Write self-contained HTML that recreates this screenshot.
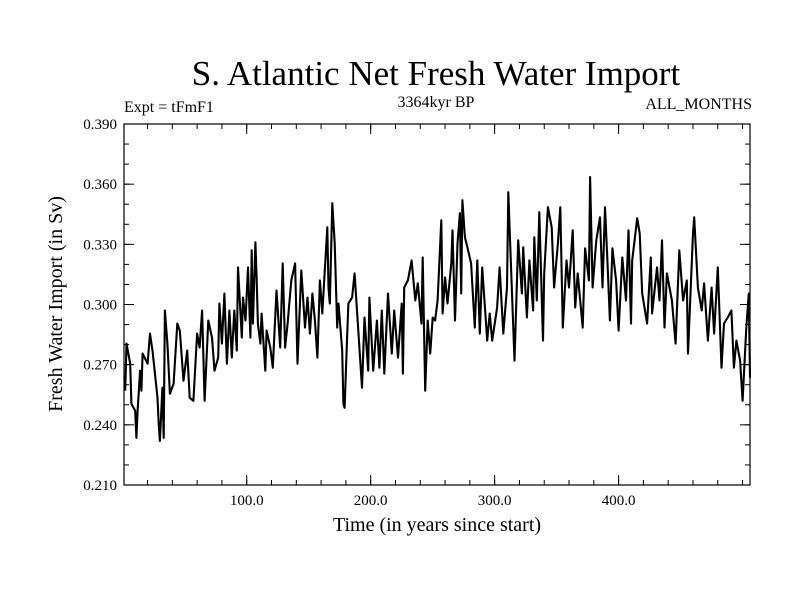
<!DOCTYPE html>
<html><head><meta charset="utf-8"><style>
body{margin:0;background:#fff;}
svg{display:block;font-family:"Liberation Serif",serif;}
</style></head><body>
<svg id="chart" width="800" height="600">
<rect width="800" height="600" fill="#fff"/>
<text x="436" y="85" font-size="35" text-anchor="middle">S. Atlantic Net Fresh Water Import</text>
<text x="124" y="112" font-size="16">Expt = tFmF1</text>
<text x="436" y="107" font-size="16" text-anchor="middle">3364kyr BP</text>
<text x="752" y="109" font-size="16" text-anchor="end">ALL_MONTHS</text>
<text transform="translate(62,304) rotate(-90)" font-size="20" text-anchor="middle">Fresh Water Import (in Sv)</text>
<text x="437" y="531" font-size="20" text-anchor="middle">Time (in years since start)</text>
<g id="axes"></g>
<g id="series"></g>
<rect x="124" y="124" width="626" height="361" fill="none" stroke="#000" stroke-width="1.2"/>
</svg>
<script>
const years=[2,3,6,7,10,11,12,14,15,16,20,22,24,28,29,30,32,33,34,36,38,41,44,46,49,52,54,57,60,62,64,66,69,72,74,77,78,80,82,84,86,88,90,92,93,96,97,99,101,103,104,105,107,108,109,111,112,115,116,119,121,124,127,129,131,133,136,139,141,144,147,149,151,153,155,157,159,161,165,166,167,169,171,173,174,177,178,179,181,182,185,187,189,190,193,195,198,199,202,205,207,209,211,214,217,219,222,225,226,227,230,233,236,238,241,242,244,246,248,250,252,254,257,258,260,262,265,266,268,270,272,273,274,276,278,281,284,286,288,290,294,296,298,302,304,307,310,311,314,316,319,322,323,326,328,331,332,334,336,339,340,343,346,348,351,353,355,358,360,363,365,367,371,373,376,377,379,382,385,387,389,391,393,395,398,400,403,406,408,410,411,415,417,419,423,426,427,431,433,435,437,439,443,446,449,452,455,456,460,461,464,467,469,472,475,477,480,483,485,488,491,493,495,498,500,503,505,506];
const values=[0.257,0.2805,0.2705,0.2505,0.247,0.2335,0.247,0.267,0.257,0.2755,0.2705,0.2855,0.277,0.2535,0.2405,0.232,0.2585,0.2335,0.297,0.2805,0.2555,0.2605,0.2905,0.287,0.262,0.277,0.2535,0.252,0.2855,0.2785,0.297,0.252,0.292,0.2835,0.267,0.2735,0.3005,0.2805,0.3055,0.2705,0.297,0.2735,0.297,0.277,0.3185,0.2835,0.3035,0.292,0.3185,0.2835,0.327,0.2905,0.331,0.3135,0.2905,0.2805,0.2955,0.267,0.287,0.2785,0.2685,0.307,0.2785,0.3205,0.2785,0.2905,0.312,0.3205,0.2705,0.317,0.2885,0.3035,0.2855,0.3055,0.292,0.2735,0.312,0.2955,0.3385,0.3085,0.3005,0.3505,0.3305,0.2885,0.3005,0.277,0.2505,0.2485,0.2835,0.3005,0.3035,0.3155,0.297,0.287,0.2585,0.2935,0.267,0.3035,0.267,0.292,0.2685,0.297,0.2655,0.3055,0.2755,0.297,0.2735,0.3005,0.2655,0.3085,0.312,0.322,0.302,0.3105,0.2905,0.3235,0.257,0.292,0.2755,0.2935,0.292,0.302,0.342,0.2955,0.3135,0.3005,0.3205,0.337,0.292,0.3305,0.3455,0.3055,0.352,0.3335,0.3285,0.3205,0.2885,0.322,0.2855,0.3185,0.282,0.2955,0.282,0.2985,0.3185,0.2855,0.3085,0.356,0.3055,0.272,0.332,0.3055,0.3285,0.2935,0.322,0.297,0.3335,0.302,0.346,0.282,0.3155,0.3485,0.3385,0.3085,0.3305,0.3485,0.2885,0.322,0.3085,0.337,0.2985,0.3155,0.2885,0.328,0.312,0.3635,0.3085,0.332,0.3435,0.3085,0.3485,0.322,0.292,0.328,0.312,0.287,0.3235,0.302,0.337,0.2905,0.322,0.343,0.3355,0.3055,0.2905,0.3235,0.2955,0.3185,0.302,0.332,0.2885,0.3155,0.302,0.2805,0.327,0.302,0.312,0.2755,0.3355,0.3435,0.3085,0.297,0.3105,0.282,0.3085,0.2855,0.3185,0.2685,0.2905,0.2935,0.297,0.2685,0.282,0.272,0.252,0.2885,0.3055,0.2635];
const yTicks=[0.210,0.240,0.270,0.300,0.330,0.360,0.390];
const yTickLabels=["0.210","0.240","0.270","0.300","0.330","0.360","0.390"];
const xTicks=[100,200,300,400];
const xTickLabels=["100.0","200.0","300.0","400.0"];
const X0=124,X1=750,Y0=485,Y1=124,xMin=1,xMax=506,yMin=0.21,yMax=0.39;
function sx(v){return X0+(v-xMin)/(xMax-xMin)*(X1-X0);}
function sy(v){return Y0-(v-yMin)/(yMax-yMin)*(Y0-Y1);}
const NS="http://www.w3.org/2000/svg";
const axes=document.getElementById('axes');
function line(x1,y1,x2,y2,name){const l=document.createElementNS(NS,'line');l.setAttribute('x1',x1);l.setAttribute('y1',y1);l.setAttribute('x2',x2);l.setAttribute('y2',y2);l.setAttribute('stroke','#000');l.setAttribute('stroke-width','1');


axes.appendChild(l);}
function text(x,y,s,anchor,name){const t=document.createElementNS(NS,'text');t.setAttribute('x',x);t.setAttribute('y',y);t.setAttribute('font-size','15');t.setAttribute('text-anchor',anchor);t.textContent=s;


axes.appendChild(t);}
for(let v=0.21;v<=0.3901;v+=0.01){const y=sy(v);line(X0,y,X0+5,y,'y-minor-tick');line(X1,y,X1-5,y,'y-minor-tick');}
yTicks.forEach((v,i)=>{const y=sy(v);line(X0,y,X0+10,y,'y-major-tick');line(X1,y,X1-10,y,'y-major-tick');text(117,y+5,yTickLabels[i],'end','y-tick-label');});
for(let v=20;v<=500;v+=20){const x=sx(v);line(x,Y0,x,Y0-5,'x-minor-tick');line(x,Y1,x,Y1+5,'x-minor-tick');}
xTicks.forEach((v,i)=>{const x=sx(v);line(x,Y0,x,Y0-10,'x-major-tick');line(x,Y1,x,Y1+10,'x-major-tick');text(x,505,xTickLabels[i],'middle','x-tick-label');});
const p=document.createElementNS(NS,'polyline');
p.setAttribute('points',years.map((yr,i)=>sx(yr).toFixed(1)+','+sy(values[i]).toFixed(1)).join(' '));
p.setAttribute('fill','none');p.setAttribute('stroke','#000');p.setAttribute('stroke-width','2.1');p.setAttribute('stroke-linejoin','round');


document.getElementById('series').appendChild(p);
</script>
</body></html>
